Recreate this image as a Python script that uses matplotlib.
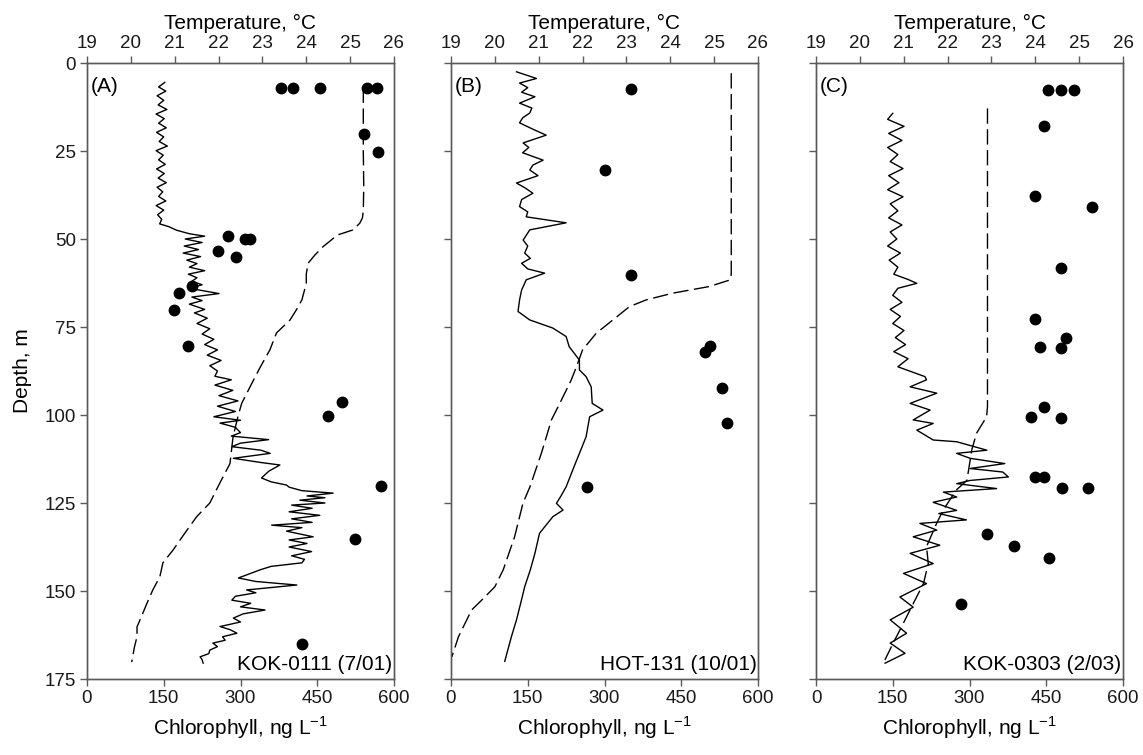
import matplotlib
matplotlib.use("Agg")
import matplotlib.pyplot as plt

plt.rcParams['font.family'] = ['Liberation Sans', 'DejaVu Sans']

# ---------------- Panel A: KOK-0111 (7/01) ----------------
A_chl_depth = [5.5, 6.8, 8.0, 9.3, 10.6, 11.9, 13.2, 14.5, 15.8, 17.1, 18.4, 19.7,
               21.0, 22.3, 23.6, 24.9, 26.2, 27.5, 28.8, 30.1, 31.4, 32.7, 34.0,
               35.3, 36.6, 37.9, 39.2, 40.5, 41.8, 43.1, 44.4, 45.7, 46.5,
               47.5, 48.5, 49.2, 50, 51, 52, 53, 54, 55, 56, 57, 58, 59, 60, 61, 62, 63, 64, 65.5,
               66.5, 67.5, 68.5, 70, 71, 72.5, 74, 75.5, 77, 78.5, 80, 81.5, 83, 84.5, 86, 87.5,
               89, 90, 91.5, 93, 94.5, 96, 97.5, 99, 100.5, 101.5, 102.3, 103.5, 105, 106, 107,
               108, 109, 110, 110.9, 112.3, 113.5, 114.2, 116, 117.9, 119, 119.9, 120.5, 121.5,
               122.2, 123, 123.5, 124.2, 125, 125.6, 126.5, 127.5, 128.5, 129.5, 130.5, 131.3,
               132, 133, 134.6, 135.5, 136.5, 137.5, 138.8, 140, 141, 142, 143, 144, 145, 146.3,
               147.3, 148.3, 149.7, 150.5, 151.5, 152.6, 153.5, 154.5, 155.4, 156.5, 157.7, 158.8,
               160.1, 161, 162, 163, 164, 164.8, 165.8, 166.8, 167.8, 168.7, 169.5, 170.5]
A_chl = [152, 140, 154, 137, 150, 139, 156, 135, 151, 140, 155, 136,
         150, 141, 157, 135, 149, 140, 153, 136, 151, 139, 155,
         137, 148, 140, 154, 135, 150, 138, 146, 142, 160,
         175, 200, 230, 192, 225, 190, 218, 188, 222, 195, 215, 200, 230, 198, 215, 205, 225, 200, 258,
         205, 225, 200, 230, 210, 235, 215, 240, 225, 248, 230, 255, 235, 262, 240, 255,
         250, 282, 250, 285, 258, 295, 255, 290, 248, 300, 260, 290, 300, 282, 355,
         300, 283, 340, 358, 286, 340, 377, 355, 341, 360, 390, 395, 420,
         481, 430, 465, 416, 465, 400, 440, 395, 455, 400, 440, 361,
         420, 390, 442, 395, 430, 395, 439, 400, 425, 420, 360, 338, 320, 296,
         330, 410, 312, 330, 290, 283, 320, 300, 348, 305, 286, 300,
         260, 280, 293, 265, 270, 246, 255, 240, 238, 221, 225, 227]
A_temp_depth = [7, 15, 25, 35, 42, 44, 45.5, 47.4, 48.9, 50.5, 52.2, 54.5, 56.9, 60, 62.6, 67.3, 70,
                73, 76.7, 81.5, 86.4, 90, 96.6, 100, 106.2, 113.8, 119.3, 125, 128.9, 132.7, 138.4,
                142, 146, 149.7, 153.4, 157, 160.2, 163, 166, 170.2]
A_temp = [25.3, 25.3, 25.3, 25.31, 25.3, 25.28, 25.22, 25.07, 24.7, 24.55, 24.38, 24.2, 24.04, 24.0,
          24.0, 23.9, 23.78, 23.63, 23.32, 23.17, 22.95, 22.8, 22.53, 22.45, 22.33, 22.26, 22.03,
          21.8, 21.5, 21.28, 20.96, 20.73, 20.66, 20.5, 20.37, 20.25, 20.14, 20.14, 20.08, 20.02]
A_dot_depth = [7.2, 7.2, 7.2, 7.2, 7.2, 20.3, 25.2, 49.1, 50.1, 50.1, 53.3, 55.2, 63.3, 65.3, 70.2,
               80.3, 96.4, 100.3, 120.2, 135.2, 165]
A_dot_val = [379, 403, 455, 548, 566, 542, 568, 275, 309, 318, 257, 292, 206, 180, 171,
             198, 498, 471, 574, 524, 421]

# ---------------- Panel B: HOT-131 (10/01) ----------------
B_chl_depth = [2.5, 4.4, 5.7, 7, 8.3, 9.6, 11.4, 12.8, 14.2, 15.6, 17, 18.8, 20.5, 22.7, 24, 25.5,
               27.6, 29, 30.4, 32, 34.1, 35.5, 37, 38.8, 40.8, 42.3, 43.7, 45.4, 47.4, 50.3, 52,
               54, 55.5, 56.9, 58.5, 59.7, 61.6, 64.5, 67.3, 70.6, 73, 75.3, 77.7, 80.6, 84.4,
               87.2, 89.1, 92, 96.7, 98.6, 100.5, 106.2, 110.9, 115.6, 120.4, 123, 125.1, 127,
               128.9, 133.6, 139.3, 144, 148.8, 153, 158.2, 163, 170]
B_chl = [128, 167, 134, 150, 138, 164, 134, 158, 154, 140, 134, 160, 186, 141, 152, 140,
         180, 160, 154, 170, 128, 145, 160, 138, 134, 150, 147, 225, 154, 141, 150,
         144, 155, 138, 150, 183, 147, 138, 134, 131, 154, 199, 225, 231, 251,
         251, 264, 274, 276, 297, 271, 264, 251, 238, 225, 215, 206, 219,
         199, 173, 164, 155, 144, 137, 128, 118, 105]
B_temp_depth = [2.9, 20, 40, 60, 61.6, 63.5, 65.4, 67.3, 69.2, 73, 76.8, 81.5, 86.3, 90.1, 96.7,
                101.4, 110.9, 120.4, 125.1, 134.6, 144, 148.8, 152.6, 155.4, 163, 168.7]
B_temp = [25.39, 25.39, 25.39, 25.39, 25.37, 24.89, 24.05, 23.45, 23.07, 22.69, 22.31, 22.0,
          21.86, 21.74, 21.48, 21.29, 21.06, 20.8, 20.64, 20.45, 20.19, 20.0, 19.7, 19.47,
          19.17, 19.02]
B_dot_depth = [7.4, 30.4, 60.3, 80.3, 82.2, 92.4, 102.4, 120.4]
B_dot_val = [351, 300, 351, 506, 496, 529, 540, 265]

# ---------------- Panel C: KOK-0303 (2/03) ----------------
C_chl_depth = [14.3, 16, 18, 20, 22, 24, 26, 28, 30, 32, 34, 36, 38, 40, 42, 44, 46, 48, 50, 52,
               54, 56, 58, 60, 61.5, 62.6, 64, 66, 68, 70, 72, 74, 76, 78, 80, 82, 84, 86.3,
               87.2, 89.1, 90, 92, 93.8, 96.7, 98.6, 101.4, 102.4, 104.3, 107.1, 107.6, 110,
               110.9, 112.3, 113.8, 115.2, 116.2, 117.6, 118.6, 119.5, 120.9, 121.9, 123.3,
               124.8, 127.1, 128, 129.8, 130.8, 132.7, 134.6, 137, 139.3, 142.2, 145, 147.9,
               151.7, 154.6, 158.2, 162, 164.8, 167.7, 170.5]
C_chl = [150, 140, 172, 142, 168, 140, 160, 145, 170, 142, 162, 140, 170, 145, 160, 142, 168, 145,
         158, 140, 165, 143, 160, 152, 180, 197, 160, 150, 168, 145, 165, 150, 172, 155, 175,
         152, 180, 160, 177, 213, 216, 184, 236, 184, 223, 190, 229, 197, 229, 275, 334,
         275, 301, 369, 301, 365, 376, 301, 275, 353, 249, 275,
         229, 275, 240, 294, 203, 236, 190, 242, 184, 229, 171, 216,
         164, 190, 145, 177, 145, 174, 135]
C_temp_depth = [12.9, 30, 60, 97.6, 100.5, 105.2, 110, 115.6, 118.6, 121.3, 127, 130.8, 137.4,
                142.2, 147.9, 153.5, 159.2, 164.8, 169.6]
C_temp = [22.91, 22.91, 22.91, 22.91, 22.89, 22.66, 22.55, 22.48, 22.44, 22.2, 21.9, 21.75,
          21.52, 21.56, 21.45, 21.22, 20.99, 20.76, 20.57]
C_dot_depth = [7.7, 7.7, 7.7, 17.9, 37.8, 40.8, 58.1, 72.7, 78.2, 80.6, 80.9, 97.8, 100.5,
               100.9, 117.7, 117.7, 120.6, 120.6, 133.7, 137.1, 140.7, 153.6]
C_dot_val = [454, 479, 504, 445, 428, 540, 479, 428, 488, 438, 479, 446, 420,
             479, 428, 446, 480, 531, 334, 386, 455, 283]

chl_ticks = [0, 150, 300, 450, 600]
temp_ticks = [19, 20, 21, 22, 23, 24, 25, 26]
depth_ticks = [0, 25, 50, 75, 100, 125, 150, 175]

panels = [
    ("(A)", "KOK-0111 (7/01)", A_chl_depth, A_chl, A_temp_depth, A_temp, A_dot_depth, A_dot_val),
    ("(B)", "HOT-131 (10/01)", B_chl_depth, B_chl, B_temp_depth, B_temp, B_dot_depth, B_dot_val),
    ("(C)", "KOK-0303 (2/03)", C_chl_depth, C_chl, C_temp_depth, C_temp, C_dot_depth, C_dot_val),
]

W, H = 1143, 755
fig = plt.figure(figsize=(W / 100, H / 100), dpi=100)
lefts = [87, 451, 816]
top_px, bot_px = 63, 679
width_px = 307
spine_col = "#5a5a5a"
tick_fs = 13.5
label_fs = 15

for i, (tag, station, cd, cv, td, tv, dd, dv) in enumerate(panels):
    ax = fig.add_axes([lefts[i] / W, 1 - bot_px / H, width_px / W, (bot_px - top_px) / H])
    ax.plot(cv, cd, color="black", lw=1.0)
    ax.plot(dv, dd, 'o', color="black", ms=7.5, zorder=5)
    ax.set_xlim(0, 600)
    ax.set_ylim(175, 0)
    ax.set_xticks(chl_ticks)
    ax.set_yticks(depth_ticks)
    ax.set_xlabel("Chlorophyll, ng L$^{\\mathregular{-1}}$", fontsize=label_fs, labelpad=5)
    if i == 0:
        ax.set_ylabel("Depth, m", fontsize=label_fs, labelpad=9)
    else:
        ax.set_yticklabels([])
    ax.tick_params(direction='out', length=5, width=1, color=spine_col, labelsize=tick_fs,
                   labelcolor="#1a1a1a", pad=3)
    for s in ax.spines.values():
        s.set_color(spine_col)
        s.set_linewidth(1.0)
    ax.text(0.012, 0.978, tag, transform=ax.transAxes, ha='left', va='top', fontsize=label_fs)
    ax.text(0.995, 0.008, station, transform=ax.transAxes, ha='right', va='bottom', fontsize=label_fs)

    ax2 = ax.twiny()
    ax2.plot(tv, td, color="black", lw=1.0, linestyle=(0, (11, 4)))
    ax2.set_xlim(19, 26)
    ax2.set_ylim(175, 0)
    ax2.set_xticks(temp_ticks)
    ax2.set_xlabel("Temperature, °C", fontsize=label_fs, labelpad=4)
    ax2.tick_params(direction='out', length=5, width=1, color=spine_col, labelsize=tick_fs,
                    labelcolor="#1a1a1a", pad=3)
    for s in ax2.spines.values():
        s.set_color(spine_col)
        s.set_linewidth(1.0)

fig.savefig("out.png", dpi=100, facecolor="white")
